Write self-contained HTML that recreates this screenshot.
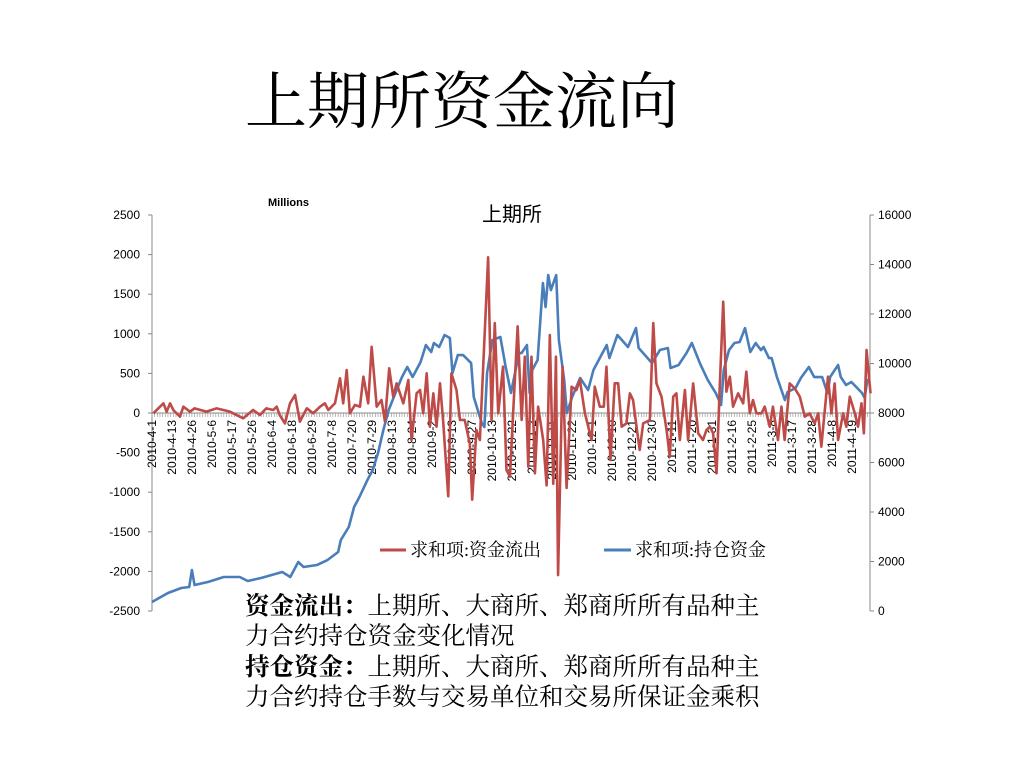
<!DOCTYPE html>
<html><head><meta charset="utf-8"><style>
body{margin:0;background:#fff;width:1024px;height:768px;overflow:hidden;position:relative;font-family:"Liberation Serif","Noto Serif CJK SC",serif}
.t{position:absolute;white-space:nowrap}
</style></head><body>
<div class="t" style="left:245px;top:52px;font-size:62px;color:#000">上期所资金流向</div>
<svg id="chart" width="1024" height="768" style="position:absolute;left:0;top:0" font-family="Liberation Sans, Noto Sans CJK SC, sans-serif"></svg>
<div class="t" style="left:245px;top:592px;font-size:24.5px;line-height:30px;color:#000"><b>资金流出：</b>上期所、大商所、郑商所所有品种主<br>力合约持仓资金变化情况</div>
<div class="t" style="left:245px;top:653px;font-size:24.5px;line-height:30px;color:#000"><b>持仓资金：</b>上期所、大商所、郑商所所有品种主<br>力合约持仓手数与交易单位和交易所保证金乘积</div>
<script>
const dateLabels=["2010-4-1","2010-4-13","2010-4-26","2010-5-6","2010-5-17","2010-5-26","2010-6-4","2010-6-18","2010-6-29","2010-7-8","2010-7-20","2010-7-29","2010-8-13","2010-8-24","2010-9-2","2010-9-13","2010-9-27","2010-10-13","2010-10-22","2010-11-2","2010-11-11","2010-11-22","2010-12-1","2010-12-10","2010-12-21","2010-12-30","2011-1-11","2011-1-20","2011-1-31","2011-2-16","2011-2-25","2011-3-8","2011-3-17","2011-3-28","2011-4-8","2011-4-19"];
const leftTicks=[2500,2000,1500,1000,500,0,-500,-1000,-1500,-2000,-2500];
const rightTicks=[16000,14000,12000,10000,8000,6000,4000,2000,0];
const outflowDays=[0.5,4.3,5.5,6.8,8,10.5,11.8,14.3,16,20.5,24.3,29.3,34.3,38,40.6,43,45.6,46.9,48,50,51.9,53.8,55.6,58.2,60.6,63.2,65,66.3,68.8,70.7,71.9,73.2,74.4,76.3,78.2,79.5,81.3,82.6,84.5,86.3,87.6,89.2,90.7,92,94.5,96.4,97.6,99.5,100.8,102,103.3,104.5,105.8,107,108.3,109.5,111.4,112.6,114.5,115.8,117.6,119.5,120.4,122,123.3,126.4,127.7,128.9,130.2,132,133.3,134.6,135.8,137.5,139,140.2,141.5,142.7,144,145.2,147.1,148.4,149.6,150.9,151.9,152.7,154.4,155.9,157.8,159.6,160.9,162.8,165.3,166.5,168.4,169.9,170.9,172.4,174,175.3,176.6,178.4,179.7,180.9,182.2,183.4,184.7,186,187.2,188.5,189.7,191.6,193.5,194.7,196,197.2,198.5,200.4,201.6,203.5,205.4,207.2,208.5,209.8,211,212.3,213.5,214.8,216,217.3,218.5,220.4,222.3,223.5,224.8,226,227.3,229.2,230.4,232.3,233.5,235.4,236.7,237.9,239.8,241.7,243.6,245.5,247.3,249.2,250.5,251.7,254.2,255.5,256.7,258,259.9,261.1,262.4,264.3,265.5,266.8,267.7,268.7,270.2];
const outflowValues=[-4,122,17,122,38,-46,80,17,59,17,59,17,-67,38,-25,59,38,80,-25,-131,122,227,-109,59,-4,80,122,38,122,438,122,543,-4,101,80,459,122,836,80,164,-109,564,206,374,122,417,-341,248,290,-4,501,-173,248,-173,375,-109,-1052,501,290,-88,-88,-383,-1094,-215,-341,1966,-88,1136,-4,585,-720,-804,-4,1094,-88,711,-678,711,-762,80,-341,-914,985,-893,711,-2046,585,-947,332,290,417,-4,-341,332,80,80,585,-594,375,375,-173,-131,248,164,-173,-467,-131,-109,-88,1136,374,206,-215,-552,206,248,-341,290,-341,374,-257,-341,-215,-173,-257,-762,332,1406,269,459,80,248,122,522,-4,164,-4,-4,80,-173,80,-341,80,-341,374,311,206,-46,-4,-131,-4,-425,459,-4,374,-341,-4,-173,206,-4,-173,122,-257,796,248];
const positionDays=[0,6,11,14,15,16,21,27,33,36,41,45,49,52,55,57,62,66,70,71,74,76,78,81,83,85,87,89,92,94,96,98,101,103,105,106,108,110,112,113,115,117,120,121,124,125,126,128,131,133,135,138,139,141,142,143,145,147,148,149,150,152,153,155,156,158,161,164,166,168,171,172,175,179,182,183,188,191,194,195,196,198,201,203,206,209,212,214,215,217,219,221,223,225,227,229,230,232,233,235,238,239,242,244,247,249,252,254,255,258,259,261,263,267,268,269,270];
const positionValues=[364,727,929,970,1656,1050,1172,1374,1374,1212,1333,1454,1576,1374,1980,1778,1858,2060,2384,2868,3394,4202,4606,5292,5696,6383,7312,8120,8928,9454,9858,9454,10060,10746,10464,10827,10666,11150,11029,9615,10342,10342,10019,8646,7595,7434,9615,10948,11070,9858,8807,10423,10423,10746,8807,9736,10140,13251,12282,13574,12968,13574,10948,9332,7999,8646,9413,8928,9736,10140,10746,10221,11150,10666,11433,10625,10019,10544,10625,9817,9858,9938,10423,10827,10019,9332,8807,8322,9736,10544,10827,10868,11433,10464,10827,10544,10666,10221,10221,9454,8524,8848,9009,9413,9858,9454,9454,8807,9454,9938,9454,9130,9252,8807,8605,9332,9252];
const NS='http://www.w3.org/2000/svg';
const svg=document.getElementById('chart');
const X0=152,X1=870,YT=215,YB=611,NDAYS=270;
const xS=d=>X0+d/NDAYS*(X1-X0);
const yL=v=>YT+(2500-v)/5000*(YB-YT);
const yR=v=>YB-v/16000*(YB-YT);
function mk(tag,attrs,parent){const e=document.createElementNS(NS,tag);for(const k in attrs)e.setAttribute(k,attrs[k]);(parent||svg).appendChild(e);return e;}
let e=mk('line',{x1:X0,y1:YT,x2:X0,y2:YB,stroke:'#888'});


e=mk('line',{x1:X1,y1:YT,x2:X1,y2:YB,stroke:'#888'});


e=mk('line',{x1:X0,y1:yL(0),x2:X1,y2:yL(0),stroke:'#888'});


for(let d=0;d<=NDAYS;d++){mk('line',{x1:xS(d),y1:yL(0),x2:xS(d),y2:yL(0)+4,stroke:'#999','stroke-width':0.7});}
leftTicks.forEach(v=>{
mk('line',{x1:X0-4,y1:yL(v),x2:X0,y2:yL(v),stroke:'#888'});
const t=mk('text',{x:X0-12,y:yL(v)+4,'text-anchor':'end','font-size':12,fill:'#000'});t.textContent=v;


});
rightTicks.forEach(v=>{
mk('line',{x1:X1,y1:yR(v),x2:X1+4,y2:yR(v),stroke:'#888'});
const t=mk('text',{x:X1+8,y:yR(v)+4,'font-size':12,fill:'#000'});t.textContent=v;


});
dateLabels.forEach((s,i)=>{
const x=xS(i*7.52)+4;
const t=mk('text',{x:0,y:0,'text-anchor':'end','font-size':12,fill:'#000',transform:`translate(${x},${yL(0)+7}) rotate(-90)`});t.textContent=s;


});
let p=mk('polyline',{points:positionDays.map((d,i)=>xS(d)+','+yR(positionValues[i])).join(' '),fill:'none',stroke:'#4a7ebb','stroke-width':2.6,'stroke-linejoin':'round'});


p=mk('polyline',{points:outflowDays.map((d,i)=>xS(d)+','+yL(outflowValues[i])).join(' '),fill:'none',stroke:'#be4b48','stroke-width':2.6,'stroke-linejoin':'round'});


let t=mk('text',{x:268,y:206,'font-size':11,'font-weight':'bold',fill:'#000'});t.textContent='Millions';


t=mk('text',{x:512,y:221,'text-anchor':'middle','font-size':20,fill:'#000'});t.textContent='上期所';


let g=mk('g',{});


mk('line',{x1:380,y1:550,x2:406,y2:550,stroke:'#be4b48','stroke-width':3},g);
t=mk('text',{x:410,y:556,'font-size':18,fill:'#000','font-family':'Liberation Serif, Noto Serif CJK SC, serif'},g);t.textContent='求和项:资金流出';
g=mk('g',{});


mk('line',{x1:604,y1:550,x2:631,y2:550,stroke:'#4a7ebb','stroke-width':3},g);
t=mk('text',{x:635,y:556,'font-size':18,fill:'#000','font-family':'Liberation Serif, Noto Serif CJK SC, serif'},g);t.textContent='求和项:持仓资金';
</script>
</body></html>
